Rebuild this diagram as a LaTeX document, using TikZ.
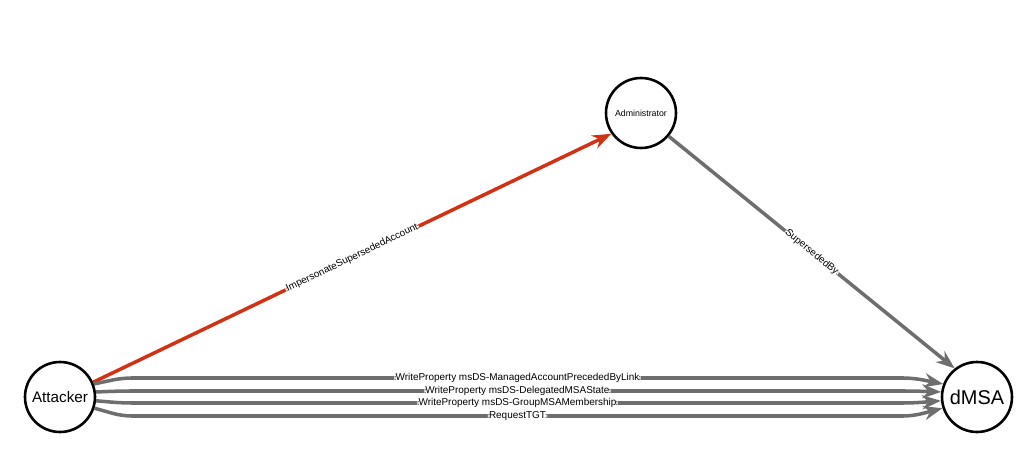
\documentclass[tikz,border=0pt]{standalone}
\usepackage{fontspec}
\setmainfont{Liberation Sans}
\usetikzlibrary{arrows.meta, positioning}
\definecolor{edgegray}{RGB}{110,110,110}
\definecolor{edgered}{RGB}{210,50,20}
\begin{document}
\begin{tikzpicture}[x=0.03cm, y=-0.03cm,
            account/.style={circle, draw, line width=2.2pt, minimum size=2.1cm, inner sep=0pt, fill=white},
            edge/.style={draw=edgegray, line width=3pt, -{Stealth[length=16pt, width=12pt]}, rounded corners=8pt},
            hot/.style={edge, draw=edgered},
            lbl/.style={fill=white, inner sep=1pt, font=\fontsize{8.5}{9}\selectfont}
        ]
        \useasboundingbox (0,0) rectangle (1024,461);

        % Accounts
        \node[account, font=\fontsize{13}{15}\selectfont] (attacker) at (60,397) {Attacker};
        \node[account, font=\fontsize{7.5}{8}\selectfont] (admin) at (641,113) {Administrator};
        \node[account, font=\fontsize{17}{19}\selectfont] (dmsa) at (977,397) {dMSA};

        % Impersonation
        \draw[hot] (attacker.24) -- node[lbl, sloped] {ImpersonateSupersededAccount} (admin.215);
        \draw[edge] (admin.-40) -- node[lbl, sloped] {SupersededBy} (dmsa.128);

        % Parallel edges
        \draw[edge] (attacker.21) -- (122,378) -- node[lbl] {WriteProperty msDS-ManagedAccountPrecededByLink} (913,378) -- (dmsa.159);
        \draw[edge] (attacker.8) -- (122,391) -- node[lbl] {WriteProperty msDS-DelegatedMSAState} (913,391) -- (dmsa.172);
        \draw[edge] (attacker.-6) -- (122,403) -- node[lbl] {WriteProperty msDS-GroupMSAMembership} (913,403) -- (dmsa.186);
        \draw[edge] (attacker.-18) -- (122,416) -- node[lbl] {RequestTGT} (913,416) -- (dmsa.198);
\end{tikzpicture}
\end{document}
